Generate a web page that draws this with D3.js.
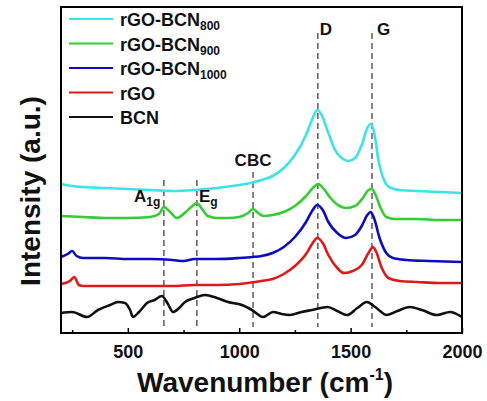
<!DOCTYPE html>
<html>
<head>
<meta charset="utf-8">
<script src="https://cdn.jsdelivr.net/npm/d3@7"></script>
<style>
body { margin:0; background:#fff; }
text { font-family: "Liberation Sans", Arial, sans-serif; font-weight: bold; fill:#111; }
</style>
</head>
<body>
<div id="chart"></div>
<script>
// spectra: [wavenumber, intensity (a.u., offset)]
var bcn = [[200,20],[250,21],[317,16],[366,23],[420,28],[456,31],[487,30],[510,23],[523,16],[550,21],[586,30],[620,33],[653,37],[680,29],[703,21],[730,25],[757,31],[800,35],[846,38],[900,35],[950,31],[1012,28],[1057,23],[1107,16],[1152,21],[1190,19],[1228,18],[1280,21],[1327,23],[1398,26],[1440,22],[1484,18],[1530,25],[1573,31],[1610,26],[1663,18],[1710,22],[1766,26],[1820,23],[1887,18],[1946,21],[2000,16]]
var rgo = [[200,49],[240,52],[260,56],[280,48],[300,47],[400,47],[500,47],[600,47],[700,47],[800,48],[900,48],[1000,49],[1100,52],[1150,54],[1200,59],[1250,67],[1300,79],[1330,90],[1350,95],[1375,90],[1400,78],[1440,65],[1470,60],[1510,62],[1550,68],[1580,80],[1600,86],[1615,81],[1640,65],[1670,55],[1720,52],[1800,51],[1900,50],[2000,50]]
var bcn1000 = [[200,76],[230,79],[250,82],[270,77],[300,75],[400,75],[500,74],[600,74],[700,73],[750,72],[800,74],[900,74],[1000,75],[1060,76],[1100,77],[1150,80],[1200,86],[1250,96],[1300,111],[1330,123],[1350,128],[1375,123],[1400,111],[1440,100],[1480,95],[1520,98],[1550,107],[1575,118],[1590,121],[1605,115],[1630,95],[1660,80],[1690,75],[1750,73],[1850,72],[2000,71]]
var bcn900 = [[200,117],[300,116],[400,115],[500,115],[600,116],[640,119],[662,126],[690,121],[720,115],[760,121],[790,127],[810,130],[830,125],[860,117],[900,115],[950,115],[1000,116],[1040,120],[1062,124],[1085,120],[1110,117],[1150,118],[1200,121],[1250,127],[1300,137],[1330,145],[1355,149],[1380,144],[1410,135],[1450,127],[1480,125],[1520,127],[1555,135],[1580,143],[1595,144],[1610,139],[1635,125],[1660,116],[1700,114],[1800,114],[1900,113],[2000,113]]
var bcn800 = [[200,149],[250,147],[300,146],[400,145],[500,144],[600,143],[700,142],[800,143],[900,145],[1000,148],[1050,150],[1100,153],[1150,157],[1200,165],[1250,178],[1300,198],[1330,215],[1350,223],[1370,218],[1400,200],[1430,183],[1460,175],[1490,172],[1520,175],[1550,188],[1575,205],[1590,209],[1605,201],[1625,173],[1650,153],[1680,145],[1720,143],[1800,142],[1900,141],[2000,140]]

var names = ["rGO-BCN", "rGO-BCN", "rGO-BCN", "rGO", "BCN"]
var subs = ["800", "900", "1000", "", ""]
var colors = ["#3ee3e3", "#33cc33", "#0d0dbf", "#e01818", "#111111"]
var series = [bcn800, bcn900, bcn1000, rgo, bcn]

// marker lines: wavenumber, top (intensity units)
var peaks = [662, 810, 1062, 1353, 1596]
var peakTops = [153, 153, 161, 300, 300]
var xticks = [500, 1000, 1500, 2000]
var xminor = [250, 750, 1250, 1750]

var W = 487, H = 401
// note: "top" is window.top, can't use it as a global
var m = {left: 61, right: 462, top: 7, bottom: 333}

var svg = d3.select("#chart").append("svg").attr("width", W).attr("height", H)

var x = d3.scaleLinear().domain([200, 2000]).range([m.left, m.right])
var y = d3.scaleLinear().domain([0, 326]).range([m.bottom, m.top])

// dashed peak markers
svg.selectAll(".peak").data(peaks).enter().append("line")
  .attr("x1", function(d){ return x(d) }).attr("x2", function(d){ return x(d) })
  .attr("y1", function(d, i){ return y(peakTops[i]) }).attr("y2", y(6))
  .attr("stroke", "#333").attr("stroke-width", 1.2).attr("stroke-dasharray", "6,4")

var line = d3.line().x(function(d){ return x(d[0]) }).y(function(d){ return y(d[1]) }).curve(d3.curveMonotoneX)

// draw back to front so cyan on top
for (var i = series.length - 1; i >= 0; i--) {
  svg.append("path").datum(series[i])
    .attr("d", line).attr("fill", "none")
    .attr("stroke", colors[i]).attr("stroke-width", 2.6).attr("stroke-linejoin", "round")
}

// frame
svg.append("rect").attr("x", m.left).attr("y", m.top).attr("width", m.right-m.left).attr("height", m.bottom-m.top)
  .attr("fill", "none").attr("stroke", "#000").attr("stroke-width", 2)

var xAxis = d3.axisBottom(x).tickValues(xticks).tickSize(-5).tickPadding(12).tickFormat(d3.format("d"))
var gx = svg.append("g").attr("transform", "translate(0," + m.bottom + ")").call(xAxis)
gx.select(".domain").remove()
gx.selectAll("line").attr("stroke", "#000").attr("stroke-width", 1.5)
gx.selectAll("text").style("font-size", "18px").attr("fill", "#111")

svg.append("g").attr("transform", "translate(0," + m.bottom + ")")
  .call(d3.axisBottom(x).tickValues(xminor).tickSize(-3).tickFormat(""))
  .call(function(g){ g.select(".domain").remove(); g.selectAll("line").attr("stroke", "#000").attr("stroke-width", 1.5) })

// axis titles
var xt = svg.append("text").attr("x", 265).attr("y", 392).attr("text-anchor", "middle").style("font-size", "28px")
xt.append("tspan").text("Wavenumber (cm")
xt.append("tspan").text("-1").style("font-size", "16px").attr("dy", -12)
xt.append("tspan").text(")").attr("dy", 12)

svg.append("text").attr("transform", "translate(40,191) rotate(-90)").attr("text-anchor", "middle")
  .style("font-size", "28px").text("Intensity (a.u.)")

// legend
var leg = svg.selectAll(".leg").data(names).enter().append("g")
  .attr("transform", function(d, i){ return "translate(0," + (19 + i * 24.5) + ")" })
leg.append("line").attr("x1", 69).attr("x2", 113).attr("y1", 0).attr("y2", 0)
  .attr("stroke", function(d, i){ return colors[i] }).attr("stroke-width", 2)
var lt = leg.append("text").attr("x", 120).attr("y", 7).style("font-size", "18px")
lt.append("tspan").text(function(d){ return d })
lt.append("tspan").text(function(d, i){ return subs[i] }).style("font-size", "12px").attr("dy", 4)

// peak labels
function label(tx, ty, main, sub) {
  var t = svg.append("text").attr("x", tx).attr("y", ty).style("font-size", "17px")
  t.append("tspan").text(main)
  if (sub) t.append("tspan").text(sub).style("font-size", "12px").attr("dy", 4)
}
label(x(1353) + 2, 35, "D")
label(x(1596) + 5, 35, "G")
svg.append("text").attr("x", x(1062)).attr("y", 166).attr("text-anchor", "middle").style("font-size", "17px").text("CBC")
label(134, 202, "A", "1g")
label(199, 202, "E", "g")
</script>
</body>
</html>
